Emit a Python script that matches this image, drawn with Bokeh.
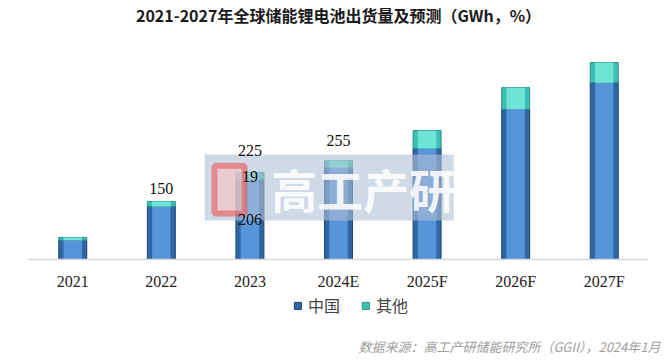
from bokeh.plotting import figure
from bokeh.models import FactorRange, Legend, LegendItem, BoxAnnotation, Label, ColumnDataSource
from bokeh.core.properties import value
from bokeh.embed import file_html
from bokeh.resources import INLINE

years = ["2021", "2022", "2023", "2024E", "2025F", "2026F", "2027F"]
china = [50, 137, 206, 237, 287, 388, 457]
other = [7, 13, 19, 18, 46, 56, 52]

# labels shown on the chart
top_label_years = ["2022", "2023", "2024E"]
top_label_values = [150, 225, 255]
inner_label_years = ["2023", "2023"]
inner_label_values = [19, 206]

series_names = ["中国", "其他"]
title_text = "2021-2027年全球储能锂电池出货量及预测（GWh，%）"
source_text = "数据来源：高工产研储能研究所（GGII），2024年1月"

totals = [c + o for c, o in zip(china, other)]
src = ColumnDataSource(dict(years=years, china=china, other=other, total=totals))

PX = 0.387  # pixels per GWh
p = figure(x_range=FactorRange(*years, range_padding=0.18, range_padding_units="absolute"),
           y_range=(-104 / PX, 259 / PX),
           width=668, height=363, output_backend="svg", toolbar_location=None,
           min_border_left=12, min_border_right=4, min_border_top=0, min_border_bottom=0,
           background_fill_color="white", border_fill_color="white", outline_line_color=None)

BW = 0.316
r_china = p.vbar(x="years", bottom=0, top="china", width=BW, source=src,
                 fill_color="#2f66a3", line_color="#1f4670", line_width=1)
r_other = p.vbar(x="years", bottom="china", top="total", width=BW, source=src,
                 fill_color="#3cbfb4", line_color="#2a8f88", line_width=1)
# bevel faces
p.vbar(x="years", bottom=0, top="china", width=BW * 0.66, source=src,
       fill_color="#5595d8", line_color=None)
p.vbar(x="years", bottom="china", top="total", width=BW * 0.66, source=src,
       fill_color="#6ee4d6", line_color=None)

# watermark
p.add_layout(BoxAnnotation(left=1.99, right=4.80, bottom=101, top=271,
                           fill_color="#b0bfd6", fill_alpha=0.6, line_color=None))
p.add_layout(BoxAnnotation(left=2.10, right=2.44, bottom=119, top=242,
                           fill_color="#f6c4c4", fill_alpha=0.65, line_color="#e25a5a",
                           line_width=6, line_alpha=0.6))
p.add_layout(Label(x=2.74, y=186, text="高工产研", text_color="white", text_alpha=0.9,
                   text_font="Noto Sans CJK SC", text_font_size="46px", text_font_style="bold",
                   text_baseline="middle", text_align="left"))

# value labels (drawn above the watermark)
offsets = [-13, -22, -20]
p.text(x=top_label_years, y=top_label_values, text=[str(v) for v in top_label_values],
       y_offset=offsets, text_align="center", text_baseline="middle", level="overlay",
       text_font=value("Liberation Serif"), text_font_size="16px", text_color="#111111")
p.text(x=inner_label_years, y=[206 + 19 / 2, 206 / 2], text=[str(v) for v in inner_label_values],
       text_align="center", text_baseline="middle", level="overlay",
       text_font=value("Liberation Serif"), text_font_size="16px", text_color="#111111")

# title and source
p.add_layout(Label(x=3.5, y=(259 - 14) / PX, text=title_text, text_align="center",
                   text_baseline="middle", text_font="Noto Sans CJK SC",
                   text_font_size="16px", text_font_style="bold", text_color="#1a1a1a"))
p.add_layout(Label(x=7.135, y=-(346 - 259) / PX, text=source_text, text_align="right",
                   text_baseline="middle", text_font="Noto Sans CJK SC",
                   text_font_size="13px", text_font_style="italic", text_color="#a0a0a0"))

p.yaxis.visible = False
p.xgrid.visible = False
p.ygrid.visible = False
p.xaxis.fixed_location = 0
p.xaxis.bounds = (0, 7)
p.xaxis.axis_line_color = "#d9d9d9"
p.xaxis.axis_line_width = 1.5
p.xaxis.major_tick_line_color = None
p.xaxis.minor_tick_line_color = None
p.xaxis.major_tick_out = 0
p.xaxis.major_label_standoff = 13
p.xaxis.major_label_text_font = "Liberation Serif"
p.xaxis.major_label_text_font_size = "16px"
p.xaxis.major_label_text_color = "#222222"

legend = Legend(items=[LegendItem(label=series_names[0], renderers=[r_china]),
                       LegendItem(label=series_names[1], renderers=[r_other])],
                orientation="horizontal", location=(281, 46),
                label_text_font="Noto Sans CJK SC", label_text_font_size="16px",
                glyph_width=9, glyph_height=9, spacing=21, label_standoff=6,
                border_line_color=None, background_fill_alpha=0, margin=0, padding=0)
p.add_layout(legend)

open("out.html", "w").write(file_html(p, INLINE))
